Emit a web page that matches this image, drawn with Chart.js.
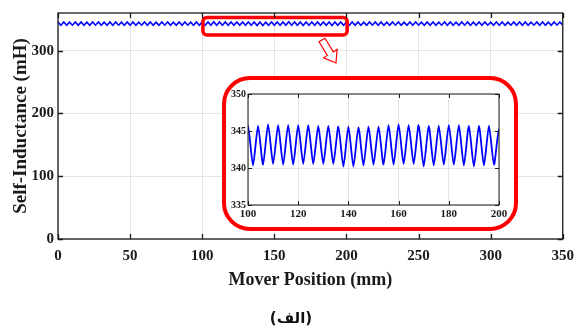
<!DOCTYPE html>
<html>
<head>
<meta charset="utf-8">
<script src="https://cdn.jsdelivr.net/npm/chart.js@4.4.1/dist/chart.umd.min.js"></script>
<style>
html,body{margin:0;padding:0;background:#fff;}
#wrap{position:relative;width:582px;height:329px;overflow:hidden;}
#main{position:absolute;left:0;top:0;}
#inset{position:absolute;left:223px;top:77px;}
#cap{position:absolute;left:0;width:582px;top:306px;height:24px;line-height:24px;text-align:center;font-family:'DejaVu Sans',sans-serif;font-weight:bold;font-size:15px;color:#111;}
</style>
</head>
<body>
<div id="wrap">
<canvas id="main" width="582" height="329"></canvas>
<canvas id="inset" width="294" height="153"></canvas>
<div id="cap" dir="rtl">(الف)</div>
</div>
<script>
// ---- data ----
const positions = [
0,2,4,6,8,10,12,14,16,18,20,22,24,26,28,30,
32,34,36,38,40,42,44,46,48,50,52,54,56,58,60,62,
64,66,68,70,72,74,76,78,80,82,84,86,88,90,92,94,
96,98,100,102,104,106,108,110,112,114,116,118,120,122,124,126,
128,130,132,134,136,138,140,142,144,146,148,150,152,154,156,158,
160,162,164,166,168,170,172,174,176,178,180,182,184,186,188,190,
192,194,196,198,200,202,204,206,208,210,212,214,216,218,220,222,
224,226,228,230,232,234,236,238,240,242,244,246,248,250,252,254,
256,258,260,262,264,266,268,270,272,274,276,278,280,282,284,286,
288,290,292,294,296,298,300,302,304,306,308,310,312,314,316,318,
320,322,324,326,328,330,332,334,336,338,340,342,344,346,348,350
];
const inductance = [
345.6,340.5,345.7,340.4,345.5,340.6,345.8,340.3,345.6,340.5,345.4,340.4,345.7,340.6,345.6,340.3,
345.5,340.5,345.8,340.4,345.6,340.6,345.5,340.3,345.7,340.5,345.6,340.4,345.4,340.6,345.7,340.3,
345.6,340.5,345.5,340.4,345.8,340.6,345.6,340.3,345.5,340.5,345.7,340.4,345.6,340.6,345.4,340.3,
345.7,340.5,345.7,340.36,345.7,340.45,345.9,340.55,345.8,340.45,345.8,340.45,345.8,340.55,345.8,340.55,
345.7,340.55,345.7,340.55,345.6,340.2,345.6,340.2,345.5,340.35,345.6,340.45,345.6,340.45,345.8,340.45,
345.9,340.55,345.8,340.55,345.8,340.2,345.7,340.35,345.7,340.45,345.8,340.45,345.8,340.35,345.7,340.2,
345.7,340.35,345.7,340.45,345.3,340.5,345.6,340.4,345.7,340.5,345.5,340.3,345.6,340.6,345.8,340.4,
345.6,340.5,345.4,340.4,345.7,340.6,345.6,340.3,345.5,340.5,345.8,340.4,345.6,340.6,345.5,340.3,
345.7,340.5,345.6,340.4,345.4,340.6,345.7,340.3,345.6,340.5,345.5,340.4,345.8,340.6,345.6,340.3,
345.5,340.5,345.7,340.4,345.6,340.6,345.4,340.3,345.7,340.5,345.6,340.4,345.5,340.6,345.8,340.3,
345.6,340.5,345.7,340.4,345.5,340.6,345.6,340.3,345.7,340.5,345.4,340.4,345.6,340.6,345.7,340.4
];
const mainXTicks = [0,50,100,150,200,250,300,350];
const mainYTicks = [0,100,200,300];
const insetXTicks = [100,120,140,160,180,200];
const insetYTicks = [335,340,345,350];
const xTitle = 'Mover Position (mm)';
const yTitle = 'Self-Inductance (mH)';

const points = positions.map((p,i)=>({x:p, y:inductance[i]}));

const SERIF = "'Liberation Serif','Times New Roman',serif";
const GRID = '#e4e4e4';
const AXIS = '#1a1a1a';

const framePlugin = {
  id:'frame',
  afterDraw(chart, args, opts){
    const {ctx, chartArea:a, scales:{x,y}} = chart;
    ctx.save();
    ctx.strokeStyle = AXIS; ctx.lineWidth = opts.lw;
    ctx.beginPath();
    x.ticks.forEach(t=>{
      const px = Math.round(x.getPixelForValue(t.value))+0.5;
      ctx.moveTo(px,a.bottom); ctx.lineTo(px,a.bottom-opts.len);
      ctx.moveTo(px,a.top); ctx.lineTo(px,a.top+opts.len);
    });
    y.ticks.forEach(t=>{
      const py = Math.round(y.getPixelForValue(t.value))+0.5;
      ctx.moveTo(a.left,py); ctx.lineTo(a.left+opts.len,py);
      ctx.moveTo(a.right,py); ctx.lineTo(a.right-opts.len,py);
    });
    ctx.stroke();
    ctx.strokeRect(a.left, a.top, a.width, a.height);
    ctx.restore();
  }
};

const zoomBox = {x0:100.5, x1:200.5, y0:325, y1:353};
const decoPlugin = {
  id:'deco',
  afterDatasetsDraw(chart){
    const {ctx, scales:{x,y}} = chart;
    ctx.save();
    // zoom box
    const l = x.getPixelForValue(zoomBox.x0), r = x.getPixelForValue(zoomBox.x1);
    const t = y.getPixelForValue(zoomBox.y1), b = y.getPixelForValue(zoomBox.y0);
    ctx.strokeStyle = '#ff0000'; ctx.lineWidth = 3.5;
    ctx.beginPath(); ctx.roundRect(l, t, r-l, b-t, 4); ctx.stroke();
    // arrow
    ctx.beginPath();
    const arr = [[319,41.8],[325,38.2],[333.3,51.8],[337.1,49.4],[336,63],[323.5,57.8],[327.3,55.4]];
    arr.forEach((p,i)=> i? ctx.lineTo(p[0],p[1]) : ctx.moveTo(p[0],p[1]));
    ctx.closePath();
    ctx.fillStyle = '#fff'; ctx.fill();
    ctx.lineWidth = 1.2; ctx.stroke();
    // inset frame
    ctx.beginPath(); ctx.roundRect(224, 78, 292, 151, 26);
    ctx.fillStyle = '#fff'; ctx.fill();
    ctx.lineWidth = 4; ctx.stroke();
    ctx.restore();
  }
};

new Chart(document.getElementById('main'), {
  type:'line',
  data:{datasets:[{data:points, borderColor:'#0000ff', borderWidth:1.6, pointRadius:0, tension:0, fill:false}]},
  options:{
    responsive:false, animation:false,
    layout:{padding:{left:8, right:19, top:10, bottom:36}},
    plugins:{legend:{display:false}, tooltip:{enabled:false}, frame:{lw:1.3, len:5}},
    scales:{
      x:{type:'linear', min:0, max:350,
        afterBuildTicks:s=>{s.ticks = mainXTicks.map(v=>({value:v}));},
        afterFit:s=>{s.height = 54;},
        grid:{color:GRID, lineWidth:1, drawTicks:false}, border:{display:false},
        ticks:{padding:8, maxRotation:0, color:AXIS, font:{family:SERIF, weight:'bold', size:15}},
        title:{display:true, text:xTitle, color:AXIS, padding:{top:0,bottom:2}, font:{family:SERIF, weight:'bold', size:18}}
      },
      y:{type:'linear', min:0, max:360,
        afterBuildTicks:s=>{s.ticks = mainYTicks.map(v=>({value:v}));},
        afterFit:s=>{s.width = 50;},
        grid:{color:GRID, lineWidth:1, drawTicks:false}, border:{display:false},
        ticks:{padding:4, color:AXIS, font:{family:SERIF, weight:'bold', size:15}},
        title:{display:true, text:yTitle, color:AXIS, padding:{top:2,bottom:0}, font:{family:SERIF, weight:'bold', size:19}}
      }
    }
  },
  plugins:[decoPlugin, framePlugin]
});

new Chart(document.getElementById('inset'), {
  type:'line',
  data:{datasets:[{data:points, borderColor:'#0000ff', borderWidth:1.8, pointRadius:0, tension:0.22, fill:false}]},
  options:{
    responsive:false, animation:false,
    layout:{padding:{left:0, right:18, top:17, bottom:0}},
    plugins:{legend:{display:false}, tooltip:{enabled:false}, frame:{lw:1, len:4}},
    scales:{
      x:{type:'linear', min:100, max:200,
        afterBuildTicks:s=>{s.ticks = insetXTicks.map(v=>({value:v}));},
        afterFit:s=>{s.height = 25;},
        grid:{color:GRID, lineWidth:1, drawTicks:false}, border:{display:false},
        ticks:{padding:3, maxRotation:0, color:AXIS, font:{family:SERIF, weight:'bold', size:11}}
      },
      y:{type:'linear', min:335, max:350,
        afterBuildTicks:s=>{s.ticks = insetYTicks.map(v=>({value:v}));},
        afterFit:s=>{s.width = 25;},
        grid:{color:GRID, lineWidth:1, drawTicks:false}, border:{display:false},
        ticks:{padding:2, color:AXIS, font:{family:SERIF, weight:'bold', size:10}}
      }
    }
  },
  plugins:[framePlugin]
});
</script>
</body>
</html>
